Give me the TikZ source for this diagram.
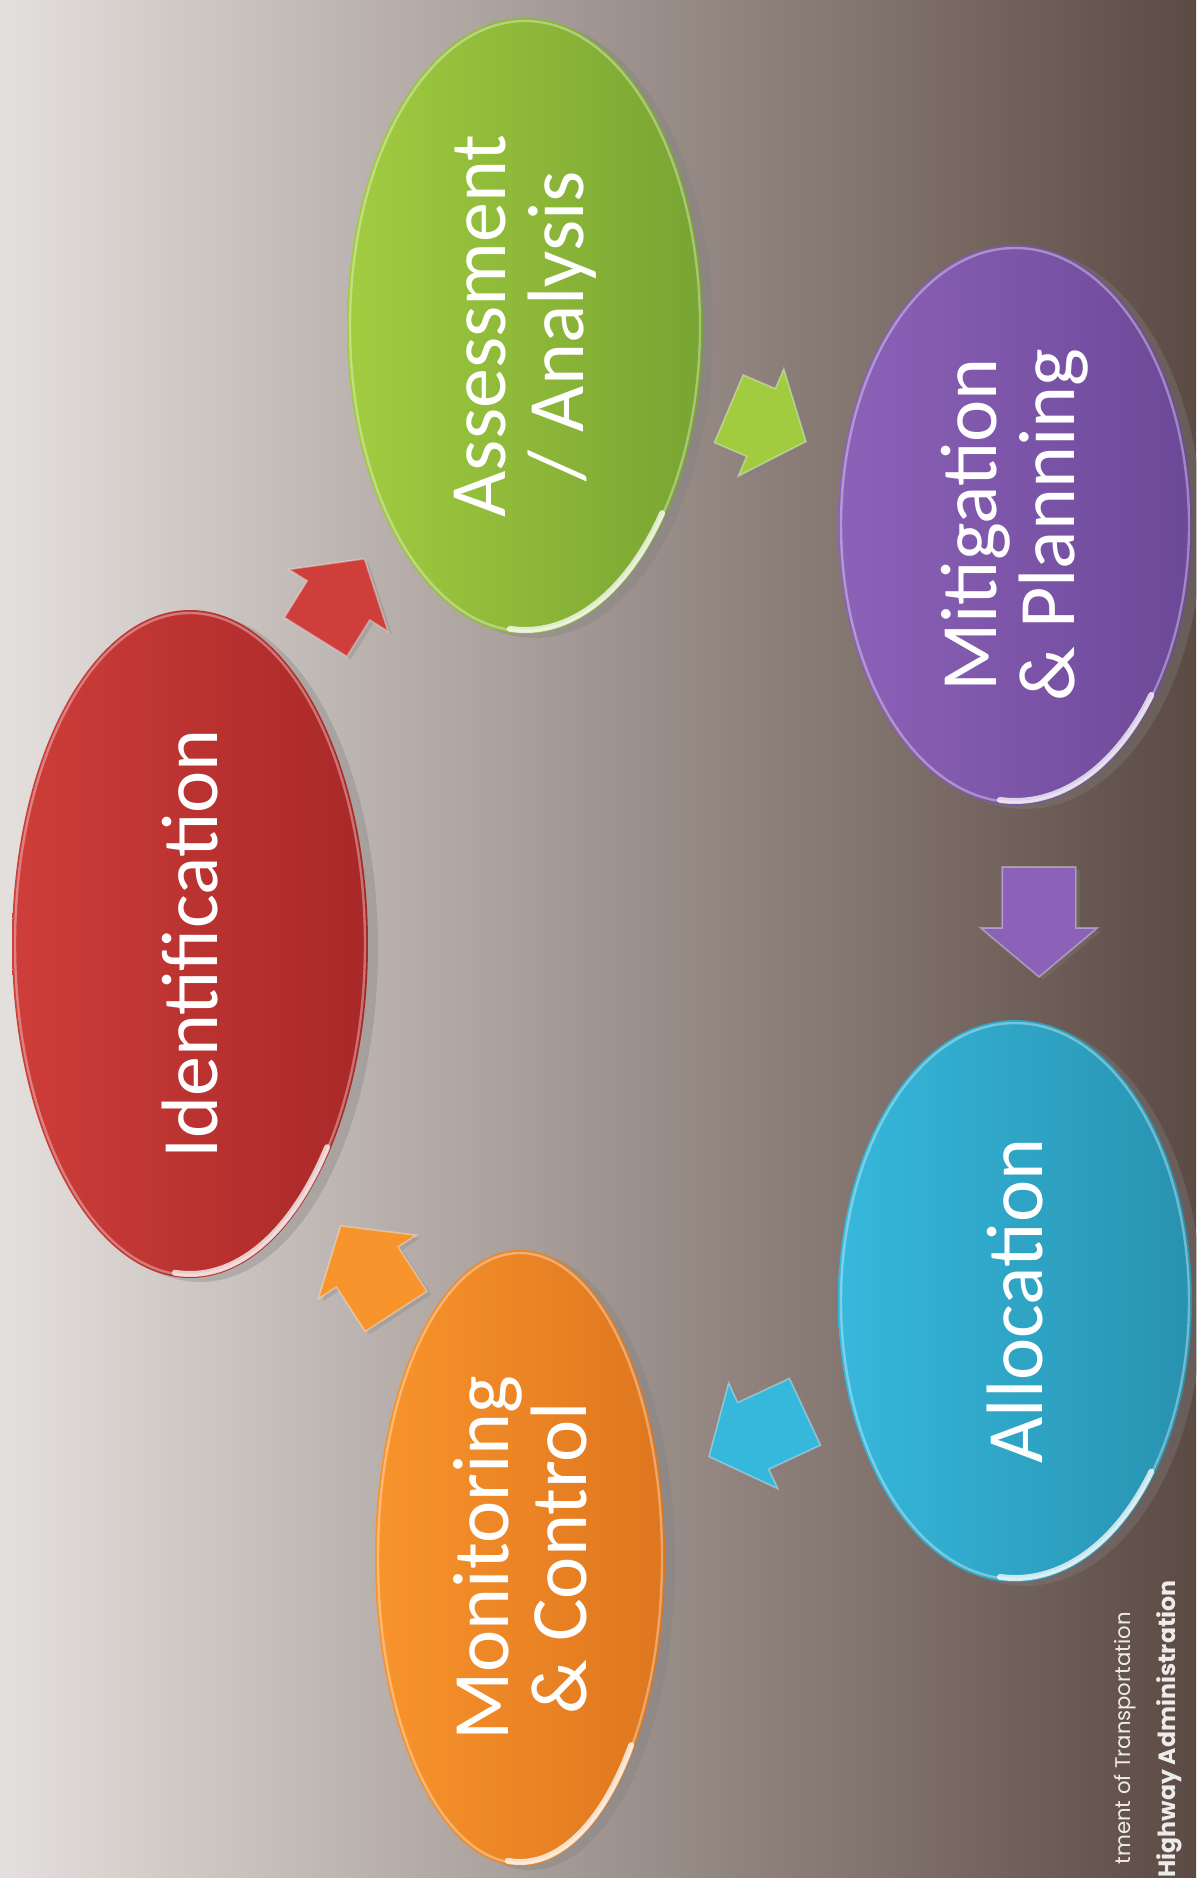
\documentclass[tikz,border=0pt]{standalone}
\usepackage{fontspec}
\setmainfont{Carlito}
\newfontfamily\footfont{Poppins}
\usetikzlibrary{shapes.geometric,shapes.arrows,shadows}

% background
\definecolor{bgL}{RGB}{228,224,221}
\definecolor{bgM}{RGB}{170,160,154}
\definecolor{bgR}{RGB}{92,74,68}
% stage colours (light side / dark side)
\definecolor{redL}{RGB}{206,62,58}
\definecolor{redR}{RGB}{168,40,40}
\definecolor{grnL}{RGB}{162,204,64}
\definecolor{grnR}{RGB}{120,164,50}
\definecolor{purL}{RGB}{140,98,184}
\definecolor{purR}{RGB}{108,72,152}
\definecolor{bluL}{RGB}{54,184,220}
\definecolor{bluR}{RGB}{40,146,176}
\definecolor{orgL}{RGB}{248,148,44}
\definecolor{orgR}{RGB}{222,118,30}

\tikzset{
  stage/.style={ellipse, inner sep=0pt, draw=none,
    drop shadow={shadow xshift=5pt, shadow yshift=-2pt, opacity=0.35}},
  lbl/.style={text=white, rotate=90, align=center, inner sep=0pt,
    font=\fontsize{40}{39}\selectfont},
  flow/.style={single arrow, inner xsep=0pt, inner ysep=18pt, minimum height=52pt,
    single arrow head extend=10.75pt, single arrow head indent=0pt,
    single arrow tip angle=100,
    anchor=tip, draw=white, draw opacity=0.35, line width=0.8pt,
    drop shadow={shadow xshift=2pt, shadow yshift=-1.5pt, opacity=0.3}},
  foot/.style={text={rgb,255:red,238;green,236;blue,234}, rotate=90, inner sep=0pt,
    font=\footfont\fontsize{10.6}{12}\selectfont},
  rim/.style={white, opacity=0.35, line width=1.2pt},
  gloss/.style={white, opacity=0.75, line width=3pt, line cap=round}
}

% \stagebox{name}{x}{y}{rx}{ry}{light}{dark}{text}
\newcommand{\stagebox}[8]{%
  \node[stage, left color=#6, right color=#7,
        minimum width=#4pt, minimum height=#5pt] (#1) at (#2,#3) {};
  \draw[rim] (#1.center) ellipse [x radius=#4-3, y radius=#5-3];
  \draw[gloss] ([shift={(#1.center)}] 38:{#4-4} and {#5-4})
     arc [start angle=38, end angle=95, x radius=#4-4, y radius=#5-4];
  \node[lbl] (#1-t) at (#1.center) {#8};
}

\begin{document}
\begin{tikzpicture}[x=0.5pt, y=-0.5pt]
  \useasboundingbox (0,0) rectangle (1196,1878);
  \shade[left color=bgL, middle color=bgM, right color=bgR] (0,0) rectangle (1196,1878);

  % the five stages of the cycle
  \stagebox{ident}{190}{944}{178}{334}{redL}{redR}{Identification}
  \stagebox{assess}{525}{326}{178}{308}{grnL}{grnR}{Assessment\\/ Analysis}
  \stagebox{mitig}{1015}{525}{177}{280}{purL}{purR}{Mitigation\\\& Planning}
  \stagebox{alloc}{1015}{1301}{177}{281}{bluL}{bluR}{Allocation}
  \stagebox{monit}{520}{1558}{145}{308}{orgL}{orgR}{Monitoring\\\& Control}

  % block arrows between the stages, placed by their tips
  \node[flow, fill=redL, rotate=58, minimum height=46pt] (a1) at (365,558) {};
  \node[flow, fill=grnL, rotate=-23, minimum height=42pt] (a2) at (807,442) {};
  \node[flow, fill=purL, rotate=-90, minimum height=55pt] (a3) at (1039,978) {};
  \node[flow, fill=bluL, rotate=205, minimum height=53pt] (a4) at (708,1457) {};
  \node[flow, fill=orgL, rotate=123, minimum height=51pt] (a5) at (340,1225) {};

  % footer
  \node[foot, anchor=base east] (dot) at (1130,1612) {tment of Transportation};
  \node[foot, anchor=base east, font=\footfont\bfseries\fontsize{11.8}{13}\selectfont]
     (fhwa) at (1175,1580) {Highway Administration};
\end{tikzpicture}
\end{document}
